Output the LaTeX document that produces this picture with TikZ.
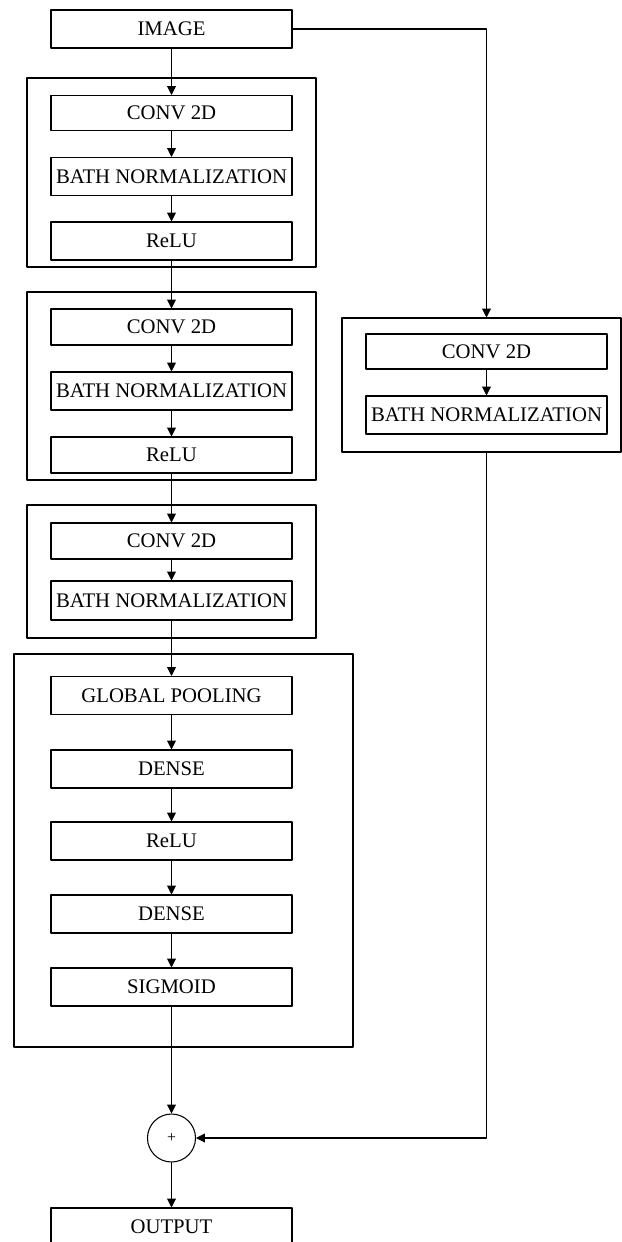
\documentclass[tikz,border=0pt]{standalone}
\usepackage{fontspec}
\setmainfont{Liberation Serif}
\usetikzlibrary{arrows.meta}

\begin{document}
\begin{tikzpicture}[line cap=round,line join=round,>={Triangle[length=5pt,width=5pt]},x=1cm,y=1cm, line width=0.6pt, blk/.style={rectangle, draw, minimum width=4.82cm, minimum height=0.76cm, inner sep=0pt, font=\fontsize{11.8}{14}\selectfont}, grp/.style={rectangle, draw, inner sep=0pt}]
                    \clip (0,0) rectangle (12.44,-24.84);

                    \node[grp, minimum width=5.78cm, minimum height=3.78cm] (g1) at (3.43,-3.45) {};
                    \node[grp, minimum width=5.78cm, minimum height=3.76cm] (g2) at (3.43,-7.72) {};
                    \node[grp, minimum width=5.78cm, minimum height=2.66cm] (g3) at (3.43,-11.43) {};
                    \node[grp, line width=1.2pt, minimum width=6.78cm, minimum height=7.86cm] (g4) at (3.67,-17.01) {};
                    \node[grp, minimum width=5.58cm, minimum height=2.68cm] (rg) at (9.63,-7.70) {};

                    \node[blk] (in) at (3.43,-0.58) {IMAGE};

                    \node[blk, minimum height=0.7cm] (c1) at (3.43,-2.26) {CONV 2D};
                    \node[blk] (b1) at (3.43,-3.53) {BATH NORMALIZATION};
                    \node[blk] (r1) at (3.43,-4.82) {ReLU};

                    \node[blk, minimum height=0.72cm] (c2) at (3.43,-6.54) {CONV 2D};
                    \node[blk] (b2) at (3.43,-7.82) {BATH NORMALIZATION};
                    \node[blk, minimum height=0.72cm] (r2) at (3.43,-9.10) {ReLU};

                    \node[blk, minimum height=0.72cm] (c3) at (3.43,-10.82) {CONV 2D};
                    \node[blk, minimum height=0.78cm] (b3) at (3.43,-12.01) {BATH NORMALIZATION};

                    \node[blk] (p) at (3.43,-13.91) {GLOBAL POOLING};
                    \node[blk] (d1) at (3.43,-15.38) {DENSE};
                    \node[blk] (r3) at (3.43,-16.82) {ReLU};
                    \node[blk] (d2) at (3.43,-18.28) {DENSE};
                    \node[blk] (sg) at (3.43,-19.74) {SIGMOID};

                    \node[blk, minimum height=0.7cm] (rc) at (9.73,-7.03) {CONV 2D};
                    \node[blk] (rb) at (9.73,-8.30) {BATH NORMALIZATION};

                    \node[circle, draw, minimum size=0.96cm, inner sep=0pt, font=\fontsize{9}{10}\selectfont] (s) at (3.43,-22.76) {+};

                    \node[blk] (out) at (3.43,-24.54) {OUTPUT};

                    \draw [->] (in) -- (c1);
                    \draw [->] (c1) -- (b1);
                    \draw [->] (b1) -- (r1);
                    \draw [->] (r1) -- (c2);
                    \draw [->] (c2) -- (b2);
                    \draw [->] (b2) -- (r2);
                    \draw [->] (r2) -- (c3);
                    \draw [->] (c3) -- (b3);
                    \draw [->] (b3) -- (p);
                    \draw [->] (p) -- (d1);
                    \draw [->] (d1) -- (r3);
                    \draw [->] (r3) -- (d2);
                    \draw [->] (d2) -- (sg);
                    \draw [->] (sg) -- (s);
                    \draw [->] (s) -- (out);

                    \draw [->] (in.east) -| (rg.north -| rc);
                    \draw [->] (rc) -- (rb);
                    \draw [->] (rg.south -| rc) |- (s.east);
                \end{tikzpicture}
\end{document}
